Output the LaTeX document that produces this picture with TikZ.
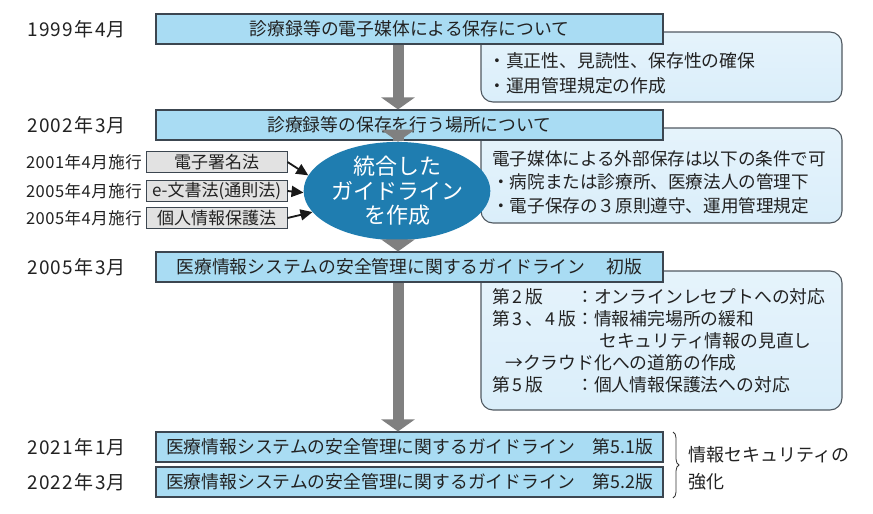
\documentclass[tikz,border=0pt]{standalone}
\usepackage{fontspec}
\setmainfont{Noto Sans CJK JP}
\usetikzlibrary{arrows.meta,shapes.geometric,decorations.pathreplacing}
\definecolor{mainblue}{HTML}{A9DCF3}
\definecolor{rboxblue}{HTML}{DAEEFA}
\definecolor{boxline}{HTML}{3C4650}
\definecolor{ellblue}{HTML}{1F7DB0}
\definecolor{arrowgray}{HTML}{808080}
\definecolor{graybox}{HTML}{E2E2E2}
\definecolor{txt}{HTML}{222222}
\begin{document}
\begin{tikzpicture}[x=1pt,y=-1pt,
  every node/.style={inner sep=0pt, text=txt},
  mainbox/.style={draw=boxline, fill=mainblue, line width=1.1pt, minimum width=507pt, minimum height=30pt, font=\fontsize{17.8}{20}\selectfont},
  rbox/.style={draw=boxline!90, top color=rboxblue!70!white, bottom color=rboxblue, line width=1.1pt, rounded corners=12pt, minimum width=361pt},
  rtext/.style={anchor=west, align=left, font=\fontsize{17.8}{25}\selectfont},
  yearlbl/.style={anchor=west, font=\fontsize{19}{20}\selectfont\addfontfeatures{LetterSpace=7}},
  lawlbl/.style={anchor=east, font=\fontsize{16.5}{18}\selectfont\addfontfeatures{LetterSpace=3}},
  lawbox/.style={draw=boxline, fill=graybox, line width=1pt, minimum width=141pt, minimum height=21pt, font=\fontsize{17}{18}\selectfont},
  grayarrow/.style={draw=arrowgray, line width=11pt, -{Triangle[width=33pt,length=12pt]}},
  blkarrow/.style={draw=black!90, line width=1.8pt, -{Triangle[width=11pt,length=12pt]}}
]
\useasboundingbox (0,0) rectangle (873,514);
\fill[white] (0,0) rectangle (873,514);

% rounded info boxes (behind the main boxes)
\node[rbox, minimum height=70pt] (r1) at (661.5,67) {};
\node[rbox, minimum height=95pt] (r2) at (661.5,175.5) {};
\node[rbox, minimum height=139pt] (r3) at (661.5,340.5) {};

% main boxes
\node[mainbox] (b1) at (409.5,29) {診療録等の電子媒体による保存について};
\node[mainbox] (b2) at (409.5,125) {診療録等の保存を行う場所について};
\node[mainbox] (b3) at (409.5,267) {医療情報システムの安全管理に関するガイドライン\hspace{1.2em}初版};
\node[mainbox] (b4) at (409.5,447) {医療情報システムの安全管理に関するガイドライン\hspace{1em}第5.1版};
\node[mainbox] (b5) at (409.5,482) {医療情報システムの安全管理に関するガイドライン\hspace{1em}第5.2版};

% year labels
\node[yearlbl] (y1) at (27,29) {1999年4月};
\node[yearlbl] (y2) at (27,125) {2002年3月};
\node[yearlbl] (y3) at (27,267) {2005年3月};
\node[yearlbl] (y4) at (27,447) {2021年1月};
\node[yearlbl] (y5) at (27,482) {2022年3月};

% texts in rounded boxes
\node[rtext] (t1) at (488,73) {・真正性、見読性、保存性の確保\\・運用管理規定の作成};
\node[rtext, font=\fontsize{17.6}{23.5}\selectfont] (t2) at (492,182) {電子媒体による外部保存は以下の条件で可\\・病院または診療所、医療法人の管理下\\・電子保存の３原則遵守、運用管理規定};
\node[rtext, font=\fontsize{17.8}{22}\selectfont] (t3) at (492,341) {%
\makebox[84pt][l]{第\,2\,版}：オンラインレセプトへの対応\\
\makebox[84pt][s]{第\hfil 3\hfil 、\hfil 4\hfil 版}：情報補完場所の緩和\\
\hspace*{107pt}セキュリティ情報の見直し\\
\hspace*{13pt}→クラウド化への道筋の作成\\
\makebox[84pt][l]{第\,5\,版}：個人情報保護法への対応};

% ellipse
\node[ellipse, fill=ellblue, minimum width=148pt, minimum height=78pt, align=center, text=white, font=\fontsize{22}{24.5}\selectfont] (ell) at (397,191) {統合した\\ガイドライン\\を作成};

% law boxes and labels
\node[lawbox] (ga) at (216.5,162) {電子署名法};
\node[lawbox] (gb) at (216.5,191) {e-文書法(通則法)};
\node[lawbox] (gc) at (216.5,218) {個人情報保護法};
\node[lawlbl] (la) at (142,162) {2001年4月施行};
\node[lawlbl] (lb) at (142,191) {2005年4月施行};
\node[lawlbl] (lc) at (142,218) {2005年4月施行};

% gray timeline arrows
\coordinate (ax) at (398,0);
\draw[grayarrow] (b1.south -| ax) -- (b2.north -| ax);
\draw[grayarrow] (b2.south -| ax) -- (ell.north -| ax);
\draw[grayarrow] (ell.south -| ax) -- (b3.north -| ax);
\draw[grayarrow] (b3.south -| ax) -- (b4.north -| ax);

% black arrows into ellipse
\draw[blkarrow] (ga.east) -- (ell.170);
\draw[blkarrow] (gb.east) -- (ell.181);
\draw[blkarrow] (gc.east) -- (ell.194);

% brace and label
\coordinate (bt) at (673,432);
\coordinate (bb) at (673,498);
\draw[decorate, decoration={brace, amplitude=6pt}, line width=0.8pt, draw=black!80] (bt) -- (bb);
\node[anchor=west, align=left, font=\fontsize{18}{27}\selectfont] (sec) at (688,468) {情報セキュリティの\\強化};
\end{tikzpicture}
\end{document}
